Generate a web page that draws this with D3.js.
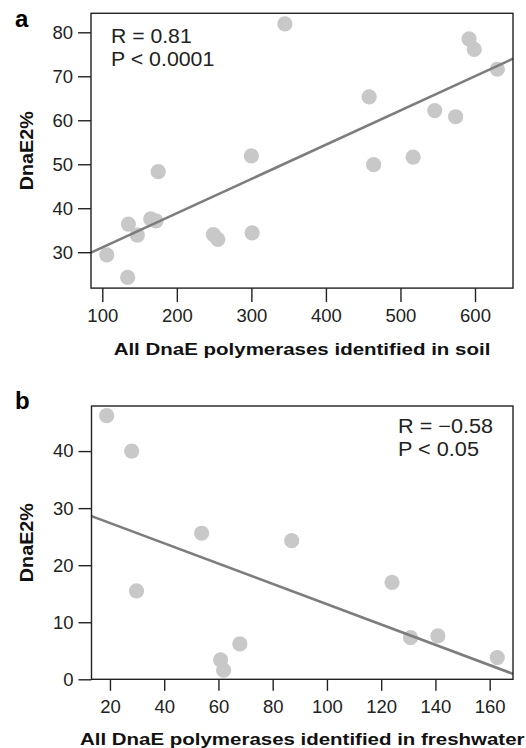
<!DOCTYPE html>
<html>
<head>
<meta charset="utf-8">
<script src="https://cdn.jsdelivr.net/npm/d3@7"></script>
<style>
  html, body { margin: 0; padding: 0; background: #fff; }
  svg { display: block; font-family: "Liberation Sans", Arial, Helvetica, sans-serif; }
</style>
</head>
<body>
<svg id="chart" width="526" height="748"></svg>
<script>
// ---------- Data ----------
// Panel a: soil
const soilX = [106, 134, 135, 147, 165, 172, 175, 249, 255, 300, 301, 345, 458, 464, 517, 546, 574, 592, 599, 630];
const soilY = [29.4, 24.3, 36.4, 33.9, 37.6, 37.1, 48.3, 34.0, 32.9, 51.9, 34.4, 81.9, 65.3, 49.9, 51.6, 62.2, 60.8, 78.5, 76.1, 71.6];
const soilFitX = [84.8, 651];
const soilFitY = [29.9, 74.0];
const soilXTicks = [100, 200, 300, 400, 500, 600];
const soilYTicks = [30, 40, 50, 60, 70, 80];
const soilStats = ["R = 0.81", "P < 0.0001"];
const soilXLabel = "All DnaE polymerases identified in soil";

// Panel b: freshwater
const freshX = [18.8, 28, 29.8, 53.8, 87, 124, 60.8, 61.9, 67.9, 130.8, 140.9, 162.8];
const freshY = [46.2, 40.0, 15.5, 25.6, 24.3, 17.0, 3.4, 1.6, 6.2, 7.3, 7.6, 3.8];
const freshFitX = [13.2, 168.6];
const freshFitY = [28.6, 0.95];
const freshXTicks = [20, 40, 60, 80, 100, 120, 140, 160];
const freshYTicks = [0, 10, 20, 30, 40];
const freshStats = ["R = \u22120.58", "P < 0.05"];
const freshXLabel = "All DnaE polymerases identified in freshwater";

const yLabel = "DnaE2%";
const panelLetters = ["a", "b"];

// ---------- Drawing ----------
const svg = d3.select("#chart");

function panel(cfg) {
  const x = d3.scaleLinear().domain(cfg.xDomain).range([cfg.left, cfg.right]);
  const y = d3.scaleLinear().domain(cfg.yDomain).range([cfg.bottom, cfg.top]);
  const g = svg.append("g");

  // points
  g.append("g").selectAll("circle")
    .data(cfg.xs.map((v, i) => [v, cfg.ys[i]]))
    .join("circle")
    .attr("cx", d => x(d[0]))
    .attr("cy", d => y(d[1]))
    .attr("r", 7.6)
    .attr("fill", "#c8c8c8");

  // regression line
  g.append("line")
    .attr("x1", x(cfg.fitX[0])).attr("y1", y(cfg.fitY[0]))
    .attr("x2", x(cfg.fitX[1])).attr("y2", y(cfg.fitY[1]))
    .attr("stroke", "#7d7d7d")
    .attr("stroke-width", 2.6);

  // box
  g.append("rect")
    .attr("x", cfg.left).attr("y", cfg.top)
    .attr("width", cfg.right - cfg.left).attr("height", cfg.bottom - cfg.top)
    .attr("fill", "none").attr("stroke", "#222").attr("stroke-width", 1.4);

  // axes
  const ax = g.append("g")
    .attr("transform", `translate(0,${cfg.bottom})`)
    .call(d3.axisBottom(x).tickValues(cfg.xTicks).tickSize(cfg.xTickSize).tickPadding(cfg.xTickPad).tickFormat(d3.format("d")));
  const ay = g.append("g")
    .attr("transform", `translate(${cfg.left},0)`)
    .call(d3.axisLeft(y).tickValues(cfg.yTicks).tickSize(13).tickPadding(5).tickFormat(d3.format("d")));
  [ax, ay].forEach(a => {
    a.select(".domain").remove();
    a.selectAll(".tick line").attr("stroke", "#222").attr("stroke-width", 1.4);
    a.selectAll(".tick text").attr("fill", "#222").style("font-size", "18.5px")
      .style("font-family", '"Liberation Sans", Arial, sans-serif');
  });

  // stats text
  cfg.stats.forEach((s, i) => {
    g.append("text")
      .attr("x", cfg.statsX).attr("y", cfg.statsY + i * 23)
      .attr("fill", "#222").style("font-size", "20px")
      .attr("textLength", cfg.statsLen[i]).attr("lengthAdjust", "spacingAndGlyphs")
      .text(s);
  });

  // x label
  g.append("text")
    .attr("x", (cfg.left + cfg.right) / 2).attr("y", cfg.xLabelY)
    .attr("text-anchor", "middle").attr("fill", "#111")
    .style("font-size", "17px").style("font-weight", "bold")
    .attr("textLength", cfg.xLabelLen).attr("lengthAdjust", "spacingAndGlyphs")
    .text(cfg.xLabel);

  // y label
  g.append("text")
    .attr("transform", `translate(33,${(cfg.top + cfg.bottom) / 2}) rotate(-90)`)
    .attr("text-anchor", "middle").attr("fill", "#111")
    .style("font-size", "17.5px").style("font-weight", "bold")
    .attr("textLength", 79).attr("lengthAdjust", "spacingAndGlyphs")
    .text(yLabel);

  // panel letter
  g.append("text")
    .attr("x", 15).attr("y", cfg.letterY)
    .attr("fill", "#000").style("font-size", "24px").style("font-weight", "bold")
    .text(cfg.letter);
}

panel({
  xs: soilX, ys: soilY, fitX: soilFitX, fitY: soilFitY,
  xDomain: [84.84, 650.97], yDomain: [21.84, 84.32],
  left: 91, right: 513, top: 13.3, bottom: 288.1,
  xTicks: soilXTicks, yTicks: soilYTicks, xTickSize: 14, xTickPad: 7,
  stats: soilStats, statsX: 111, statsY: 43.3, statsLen: [80.7, 103.3],
  xLabel: soilXLabel, xLabelY: 354.7, xLabelLen: 376.7,
  letter: panelLetters[0], letterY: 26.7
});

panel({
  xs: freshX, ys: freshY, fitX: freshFitX, fitY: freshFitY,
  xDomain: [13.2, 168.6], yDomain: [0, 47.9],
  left: 91.5, right: 513, top: 406, bottom: 679.3,
  xTicks: freshXTicks, yTicks: freshYTicks, xTickSize: 11.5, xTickPad: 9,
  stats: freshStats, statsX: 398, statsY: 432.7, statsLen: [95, 81],
  xLabel: freshXLabel, xLabelY: 745, xLabelLen: 444.5,
  letter: panelLetters[1], letterY: 409
});
</script>
</body>
</html>
